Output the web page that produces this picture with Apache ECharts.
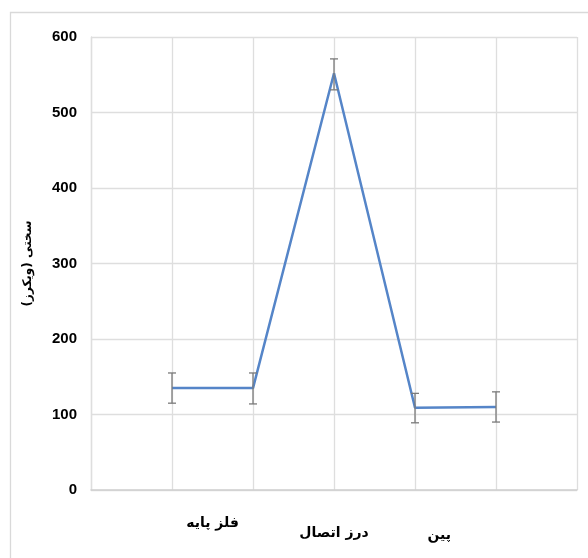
<!DOCTYPE html>
<html>
<head>
<meta charset="utf-8">
<script src="https://cdn.jsdelivr.net/npm/echarts@6/dist/echarts.min.js"></script>
<style>
html,body{margin:0;padding:0;background:#fff;}
#c{width:588px;height:558px;}
</style>
</head>
<body>
<div id="c"></div>
<script>
// Data
const xPositions = [1, 2, 3, 4, 5];
const hardness = [135, 135, 552, 109, 110];
const errLow = [115, 114, 530, 89, 90];
const errHigh = [155, 155, 571, 128, 130];
const yTicks = [0, 100, 200, 300, 400, 500, 600];
const regionLabels = ['فلز پایه', 'درز اتصال', 'پین'];
const regionCenters = [1.5, 3, 4.3];
const yTitle = 'سختی (ویکرز)';

const chart = echarts.init(document.getElementById('c'));
const lineData = xPositions.map((x, i) => [x, hardness[i]]);
const errData = xPositions.map((x, i) => [x, errLow[i], errHigh[i]]);

const option = {
  animation: false,
  backgroundColor: '#fff',
  grid: { left: 91, right: 11, top: 37, bottom: 68, containLabel: false },
  xAxis: {
    type: 'value', min: 0, max: 6, interval: 1,
    axisLabel: { show: false },
    axisTick: { show: false },
    axisLine: { show: true, onZero: false, lineStyle: { color: '#d0d0d0', width: 1.5 } },
    splitLine: { show: true, lineStyle: { color: '#dedede', width: 1.3 } }
  },
  yAxis: {
    type: 'value', min: yTicks[0], max: yTicks[yTicks.length - 1], interval: 100,
    name: yTitle, nameLocation: 'middle', nameRotate: 90, nameGap: 57,
    nameTextStyle: { fontFamily: 'DejaVu Sans', fontWeight: 'bold', fontSize: 12, color: '#000' },
    axisLabel: { fontFamily: '"Liberation Sans Narrow", "Liberation Sans", Arial, sans-serif', fontWeight: 'bold', fontSize: 15, color: '#000', margin: 14 },
    axisTick: { show: false },
    axisLine: { show: true, lineStyle: { color: '#dedede', width: 1.3 } },
    splitLine: { show: true, lineStyle: { color: '#dedede', width: 1.3 } }
  },
  series: [
    {
      type: 'line', data: lineData, symbol: 'none',
      lineStyle: { color: '#5585c8', width: 2.5 }, z: 3
    },
    {
      type: 'custom', data: errData, z: 4,
      renderItem: function (params, api) {
        const x = api.value(0);
        const lo = api.coord([x, api.value(1)]);
        const hi = api.coord([x, api.value(2)]);
        const w = 4;
        const style = { stroke: '#7a7a7a', lineWidth: 1.3 };
        return {
          type: 'group', children: [
            { type: 'line', shape: { x1: lo[0], y1: lo[1], x2: hi[0], y2: hi[1] }, style: style },
            { type: 'line', shape: { x1: lo[0] - w, y1: lo[1], x2: lo[0] + w, y2: lo[1] }, style: style },
            { type: 'line', shape: { x1: hi[0] - w, y1: hi[1], x2: hi[0] + w, y2: hi[1] }, style: style }
          ]
        };
      }
    }
  ]
};
chart.setOption(option);

const labelYOffsets = [33, 43, 45];
const graphics = [{
  type: 'rect', shape: { x: 10.5, y: 12.5, width: 700, height: 700 },
  style: { fill: 'none', stroke: '#d9d9d9', lineWidth: 1.3 }, z: -1, silent: true
}];
regionLabels.forEach((t, i) => {
  const p = chart.convertToPixel({ gridIndex: 0 }, [regionCenters[i], 0]);
  graphics.push({
    type: 'text', x: p[0], y: p[1] + labelYOffsets[i],
    style: { text: t, fontFamily: 'DejaVu Sans', fontWeight: 'bold', fontSize: 14, fill: '#000', align: 'center', verticalAlign: 'middle' }
  });
});
chart.setOption({ graphic: graphics });
</script>
</body>
</html>
